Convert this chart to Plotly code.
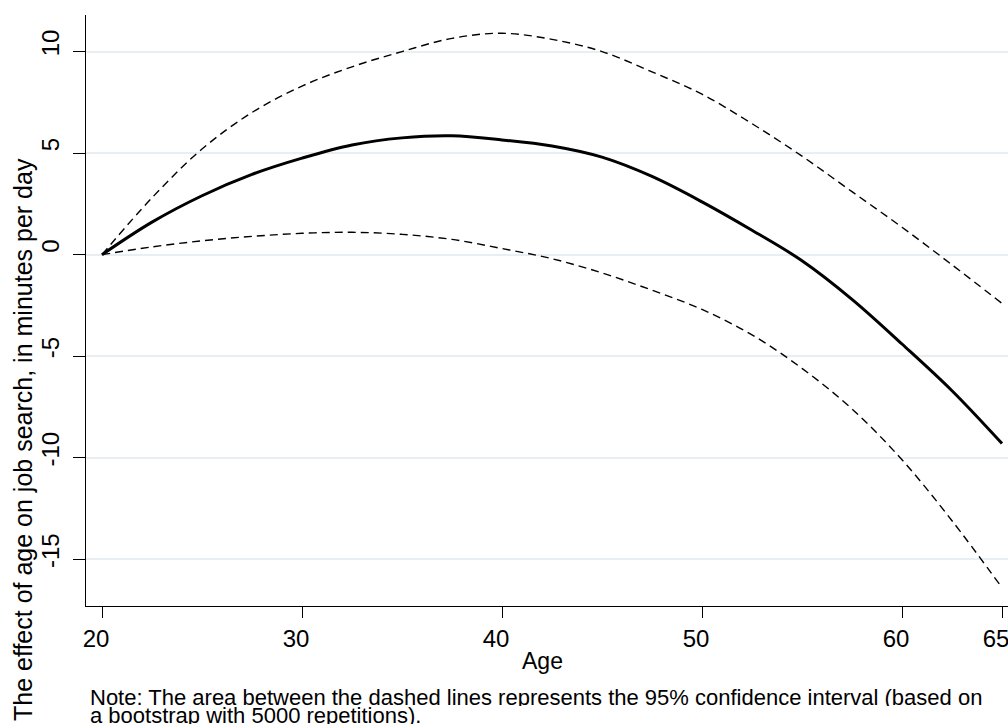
import plotly.graph_objects as go

ages = [20, 22.5, 25, 27.5, 30, 32.5, 35, 37.5, 40, 42.5, 45, 47.5, 50, 52.5, 55, 57.5, 60, 62.5, 65]
effect = [0, 1.6, 2.9, 3.95, 4.75, 5.4, 5.75, 5.85, 5.65, 5.35, 4.8, 3.85, 2.6, 1.2, -0.3, -2.2, -4.4, -6.7, -9.3]
upper_ci = [0, 2.8, 5.2, 7.0, 8.3, 9.25, 10.0, 10.65, 10.9, 10.6, 10.0, 9.0, 7.9, 6.45, 4.85, 3.1, 1.35, -0.5, -2.4]
lower_ci = [0, 0.38, 0.68, 0.9, 1.05, 1.1, 1.0, 0.75, 0.3, -0.2, -0.9, -1.75, -2.7, -3.95, -5.6, -7.6, -10.1, -13.1, -16.4]

x_ticks = [20, 30, 40, 50, 60, 65]
y_ticks = [-15, -10, -5, 0, 5, 10]

FONT = "Liberation Sans, Arial, sans-serif"

fig = go.Figure()
for vals in (upper_ci, lower_ci):
    fig.add_trace(go.Scatter(x=ages, y=vals, mode="lines",
                             line=dict(color="black", width=1.4, dash="8px,5px", shape="spline", smoothing=1.0),
                             showlegend=False, hoverinfo="skip"))
fig.add_trace(go.Scatter(x=ages, y=effect, mode="lines",
                         line=dict(color="black", width=3, shape="spline", smoothing=1.0),
                         showlegend=False))

PLOT_L, PLOT_W, PLOT_T, PLOT_H = 86, 922, 15, 591


def px(xp):
    return (xp - PLOT_L) / PLOT_W


def py(yp):
    return (PLOT_T + PLOT_H - yp) / PLOT_H


fig.update_layout(
    width=1008, height=728,
    margin=dict(l=86, r=0, t=15, b=122),
    plot_bgcolor="white", paper_bgcolor="white",
    font=dict(family=FONT, color="black"),
    xaxis=dict(range=[19.2, 65.3], tickvals=x_ticks, ticktext=[str(v) for v in x_ticks],
               showline=True, linecolor="black", linewidth=1.2, ticks="outside", ticklen=11,
               tickwidth=1.2, tickcolor="black", showgrid=False, zeroline=False,
               tickfont=dict(size=24, family=FONT), ticklabelshift=-6, ticklabeloverflow="allow"),
    yaxis=dict(range=[-17.3, 11.8], tickvals=y_ticks, ticktext=[str(v) for v in y_ticks],
               showline=True, linecolor="black", linewidth=1.2, ticks="outside", ticklen=12,
               tickwidth=1.2, tickcolor="black", showgrid=True, gridcolor="#e8eef1", gridwidth=2,
               zeroline=False, tickangle=-90, tickfont=dict(size=24, family=FONT), ticklabelshift=-5,
               ticklabelstandoff=4, ticklabeloverflow="allow"),
    annotations=[
        dict(text="The effect of age on job search, in minutes per day", xref="paper", yref="paper",
             x=px(23), y=py(440), xanchor="center", yanchor="middle",
             textangle=-90, showarrow=False, font=dict(size=25, family=FONT)),
        dict(text="Age", xref="paper", yref="paper", x=px(542), y=py(661),
             xanchor="center", yanchor="middle", showarrow=False, font=dict(size=23, family=FONT)),
        dict(text="Note: The area between the dashed lines represents the 95% confidence interval (based on",
             xref="paper", yref="paper", x=px(88), y=py(697), height=18,
             xanchor="left", yanchor="middle", showarrow=False, font=dict(size=22, family=FONT)),
        dict(text="a bootstrap with 5000 repetitions).",
             xref="paper", yref="paper", x=px(88), y=py(715), height=18,
             xanchor="left", yanchor="middle", showarrow=False, font=dict(size=22, family=FONT)),
    ],
)

fig.write_html("out.html")
